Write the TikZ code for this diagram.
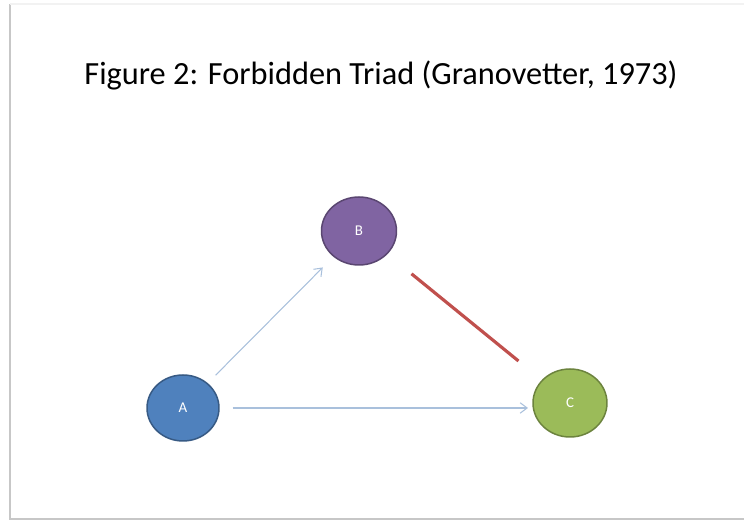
\documentclass[tikz,border=0pt]{standalone}
\usepackage{fontspec}
\setmainfont{Carlito}
\usetikzlibrary{shapes.geometric,arrows.meta}

\definecolor{nodeA}{HTML}{4F81BD}
\definecolor{nodeB}{HTML}{8064A2}
\definecolor{nodeC}{HTML}{9BBB59}
\definecolor{tie}{HTML}{A9C0DC}
\definecolor{forbidden}{HTML}{C0504D}

\tikzset{
  actor/.style={ellipse, inner sep=0pt, line width=0.85pt, text=white,
    font=\fontsize{8.5}{10}\selectfont},
  tiearrow/.style={draw=tie, line width=0.6pt, -{Straight Barb[length=4pt,width=6pt]}},
  absent/.style={draw=forbidden, line width=1.8pt}
}

\begin{document}
\begin{tikzpicture}
    \useasboundingbox (0,0) rectangle (14.88,10.42);
    % slide frame
    \draw[black!22, line width=1pt] (0.2,10.34) -- (0.2,0.04) -- (14.88,0.04);
    \draw[black!5, line width=0.8pt] (0.2,10.34) -- (14.88,10.34);

    \node (title) at (7.62,8.92) {\fontsize{18.4}{22}\selectfont Figure 2: Forbidden Triad (Granovetter, 1973)};

    \node[actor, fill=nodeA, draw=nodeA!70!black, minimum width=1.44cm, minimum height=1.32cm] (A) at (3.66,2.26) {A};
    \node[actor, fill=nodeB, draw=nodeB!70!black, minimum width=1.5cm, minimum height=1.36cm] (B) at (7.18,5.8) {B};
    \node[actor, fill=nodeC, draw=nodeC!70!black, minimum width=1.48cm, minimum height=1.36cm] (C) at (11.4,2.36) {C};

    \draw[tiearrow, shorten <=0.22cm, shorten >=0.3cm] (A) -- (B);
    \draw[tiearrow, shorten <=0.26cm, shorten >=0.84cm] (A) -- (A -| C);
    \draw[absent, shorten <=0.62cm, shorten >=0.6cm] (B) -- (C);
\end{tikzpicture}
\end{document}
